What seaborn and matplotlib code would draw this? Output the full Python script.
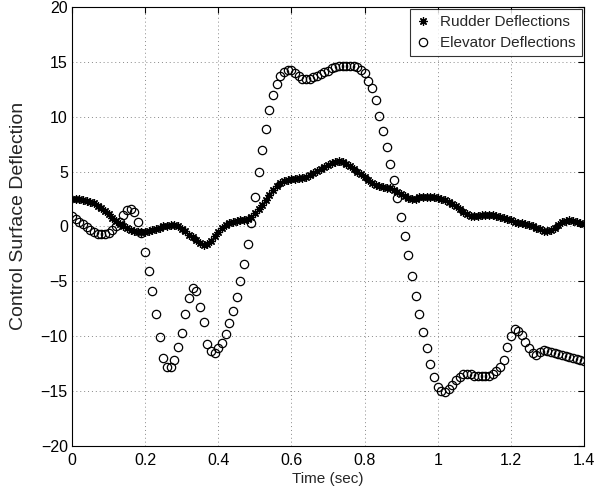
import numpy as np
import matplotlib
matplotlib.use("Agg")
import matplotlib.pyplot as plt
import seaborn as sns

# time grid (sec), 0.01 s step as in the source
time = np.round(np.arange(0, 1.41, 0.01), 2)

rudder = [
    2.55, 2.52, 2.48, 2.43, 2.35, 2.25, 2.10, 1.90, 1.65, 1.40,
    1.10, 0.80, 0.50, 0.25, 0.05, -0.15, -0.30, -0.40, -0.47, -0.50,
    -0.48, -0.40, -0.30, -0.20, -0.10, 0.00, 0.08, 0.14, 0.15, 0.02,
    -0.20, -0.45, -0.75, -1.00, -1.25, -1.50, -1.68, -1.60, -1.30, -0.90,
    -0.50, -0.15, 0.15, 0.35, 0.45, 0.50, 0.55, 0.60, 0.70, 0.90,
    1.20, 1.55, 1.95, 2.40, 2.85, 3.30, 3.70, 3.95, 4.10, 4.20,
    4.30, 4.35, 4.40, 4.45, 4.55, 4.70, 4.90, 5.05, 5.20, 5.40,
    5.60, 5.75, 5.90, 5.95, 5.85, 5.70, 5.50, 5.25, 5.00, 4.80,
    4.55, 4.25, 4.00, 3.80, 3.65, 3.60, 3.55, 3.50, 3.35, 3.15,
    2.95, 2.75, 2.60, 2.50, 2.55, 2.65, 2.70, 2.70, 2.70, 2.65,
    2.60, 2.55, 2.40, 2.25, 2.05, 1.85, 1.60, 1.35, 1.10, 0.95,
    0.95, 1.00, 1.05, 1.08, 1.08, 1.05, 1.00, 0.90, 0.78, 0.65,
    0.55, 0.45, 0.35, 0.30, 0.20, 0.10, 0.00, -0.10, -0.25, -0.40,
    -0.45, -0.35, -0.10, 0.15, 0.40, 0.50, 0.55, 0.50, 0.40, 0.30,
    0.20,
]

elevator = [
    1.00, 0.70, 0.45, 0.20, -0.09, -0.30, -0.52, -0.64, -0.70, -0.67,
    -0.55, -0.30, 0.00, 0.40, 1.06, 1.50, 1.60, 1.30, 0.40, -0.55,
    -2.3, -4.1, -5.9, -8.0, -10.1, -12.0, -12.8, -12.8, -12.2, -11.0,
    -9.7, -8.0, -6.5, -5.6, -5.9, -7.3, -8.7, -10.7, -11.3, -11.5,
    -11.1, -10.6, -9.8, -8.8, -7.7, -6.4, -5.0, -3.4, -1.6, 0.36,
    2.7, 5.0, 7.0, 8.9, 10.6, 12.0, 13.0, 13.7, 14.1, 14.3,
    14.3, 14.0, 13.7, 13.4, 13.4, 13.4, 13.6, 13.7, 13.9, 14.1,
    14.2, 14.4, 14.5, 14.6, 14.6, 14.6, 14.6, 14.6, 14.5, 14.3,
    14.0, 13.3, 12.6, 11.5, 10.1, 8.7, 7.2, 5.7, 4.2, 2.6,
    0.9, -0.85, -2.6, -4.5, -6.3, -8.0, -9.6, -11.1, -12.5, -13.7,
    -14.6, -15.0, -15.1, -14.8, -14.4, -14.0, -13.7, -13.45, -13.4, -13.45,
    -13.6, -13.6, -13.6, -13.6, -13.6, -13.45, -13.2, -12.8, -12.2, -11.0,
    -10.0, -9.3, -9.5, -9.9, -10.5, -11.1, -11.55, -11.7, -11.4, -11.25,
    -11.3, -11.4, -11.55, -11.6, -11.7, -11.8, -11.9, -12.0, -12.05, -12.2,
    -12.3,
]

sns.set_style("white")
plt.rcParams['font.family'] = ['Liberation Sans', 'DejaVu Sans']

fig = plt.figure(figsize=(5.97, 4.92), dpi=100)
ax = fig.add_axes([0.1206, 0.0935, 0.8576, 0.8923])

sns.lineplot(x=time, y=rudder, ax=ax, linestyle='', marker=(8, 2, 0),
             markersize=6, color='k', markeredgecolor='k',
             markeredgewidth=0.9, label='Rudder Deflections')
sns.lineplot(x=time, y=elevator, ax=ax, linestyle='', marker='o',
             markersize=6, markerfacecolor='none', markeredgecolor='k',
             markeredgewidth=0.9, color='k', label='Elevator Deflections')

ax.set_xlim(0, 1.4)
ax.set_ylim(-20, 20)
ax.set_xticks([0, 0.2, 0.4, 0.6, 0.8, 1, 1.2, 1.4])
ax.set_xticklabels(['0', '0.2', '0.4', '0.6', '0.8', '1', '1.2', '1.4'])
ax.set_yticks(range(-20, 21, 5))
ax.set_yticklabels(['\u221220', '\u221215', '\u221210', '\u22125', '0',
                    '5', '10', '15', '20'])
ax.grid(True, linestyle=(0, (1, 3)), color='#888888', linewidth=0.7)
ax.set_axisbelow(True)
ax.tick_params(direction='in', length=4, top=True, right=True,
               labelsize=11.5, colors='k')
ax.tick_params(axis='x', pad=5)
ax.tick_params(axis='y', pad=3)
for s in ax.spines.values():
    s.set_color('k')
    s.set_linewidth(0.8)

ax.set_xlabel('Time (sec)', fontsize=11, labelpad=3)
ax.set_ylabel('Control Surface Deflection', fontsize=14)
ax.yaxis.set_label_coords(-0.088, 0.524)

leg = ax.legend(loc='upper right', numpoints=1, fontsize=11, frameon=True,
                fancybox=False, borderaxespad=0.15, handletextpad=0.6,
                borderpad=0.4, labelspacing=0.45, handlelength=1.0)
leg.get_frame().set_edgecolor('k')
leg.get_frame().set_linewidth(0.8)

fig.savefig('out.png', dpi=100)
